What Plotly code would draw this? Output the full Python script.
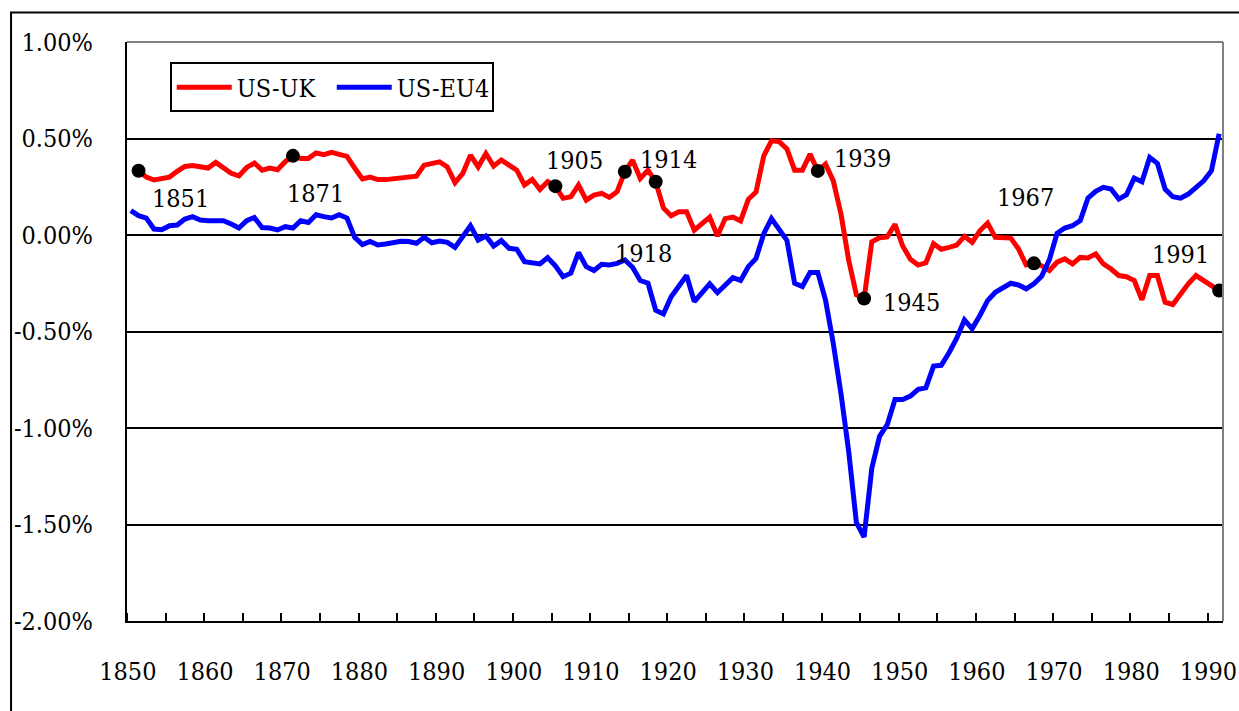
import plotly.graph_objects as go

# Annual interest-rate differentials, in percent
years_uk = list(range(1851, 1992))
us_uk = [
    0.333, 0.300, 0.285, 0.290, 0.300, 0.330, 0.355, 0.360, 0.355, 0.347,  # 1851-1860
    0.376, 0.350, 0.320, 0.306, 0.350, 0.373, 0.336, 0.347, 0.338, 0.380,  # 1861-1870
    0.410, 0.397, 0.397, 0.425, 0.416, 0.428, 0.420, 0.407, 0.347, 0.290,  # 1871-1880
    0.300, 0.287, 0.287, 0.293, 0.297, 0.302, 0.305, 0.362, 0.371, 0.379,  # 1881-1890
    0.353, 0.271, 0.319, 0.414, 0.353, 0.422, 0.357, 0.388, 0.362, 0.336,  # 1891-1900
    0.259, 0.288, 0.236, 0.276, 0.253, 0.190, 0.198, 0.259, 0.181, 0.207,  # 1901-1910
    0.216, 0.195, 0.224, 0.328, 0.388, 0.293, 0.336, 0.276, 0.140, 0.100,  # 1911-1920
    0.120, 0.120, 0.025, 0.059, 0.093, -0.005, 0.085, 0.093, 0.073, 0.185,  # 1921-1930
    0.223, 0.410, 0.488, 0.484, 0.446, 0.336, 0.336, 0.419, 0.332, 0.367,  # 1931-1940
    0.282, 0.110, -0.130, -0.310, -0.329, -0.035, -0.014, -0.010, 0.055, -0.057,  # 1941-1950
    -0.126, -0.156, -0.144, -0.045, -0.074, -0.064, -0.052, -0.007, -0.038, 0.022,  # 1951-1960
    0.062, -0.012, -0.016, -0.016, -0.072, -0.155, -0.147, -0.159, -0.184, -0.141,  # 1961-1970
    -0.124, -0.150, -0.116, -0.119, -0.098, -0.150, -0.176, -0.210, -0.216, -0.236,  # 1971-1980
    -0.336, -0.210, -0.210, -0.348, -0.360, -0.305, -0.253, -0.210, -0.236, -0.262,  # 1981-1990
    -0.288,  # 1991
]

years_eu = list(range(1850, 1992))
us_eu4 = [
    0.126,  # 1850
    0.100, 0.088, 0.031, 0.027, 0.048, 0.052, 0.083, 0.095, 0.078, 0.074,  # 1851-1860
    0.074, 0.074, 0.057, 0.036, 0.074, 0.091, 0.039, 0.036, 0.026, 0.043,  # 1861-1870
    0.036, 0.074, 0.065, 0.105, 0.095, 0.088, 0.105, 0.088, -0.012, -0.050,  # 1871-1880
    -0.033, -0.052, -0.047, -0.041, -0.033, -0.034, -0.043, -0.012, -0.040, -0.031,  # 1881-1890
    -0.038, -0.064, -0.009, 0.048, -0.026, -0.005, -0.057, -0.029, -0.069, -0.074,  # 1891-1900
    -0.138, -0.141, -0.150, -0.117, -0.160, -0.216, -0.198, -0.091, -0.164, -0.184,  # 1901-1910
    -0.152, -0.155, -0.147, -0.129, -0.167, -0.236, -0.250, -0.390, -0.409, -0.320,  # 1911-1920
    -0.270, -0.210, -0.345, -0.303, -0.253, -0.299, -0.260, -0.221, -0.235, -0.164,  # 1921-1930
    -0.121, 0.007, 0.085, 0.029, -0.028, -0.250, -0.267, -0.194, -0.194, -0.337,  # 1931-1940
    -0.560, -0.820, -1.120, -1.490, -1.565, -1.208, -1.043, -0.983, -0.852, -0.852,  # 1941-1950
    -0.835, -0.800, -0.792, -0.679, -0.675, -0.610, -0.535, -0.440, -0.486, -0.417,  # 1951-1960
    -0.340, -0.297, -0.276, -0.250, -0.259, -0.279, -0.253, -0.214, -0.129, 0.009,  # 1961-1970
    0.036, 0.048, 0.074, 0.191, 0.226, 0.247, 0.238, 0.186, 0.209, 0.295,  # 1971-1980
    0.276, 0.402, 0.371, 0.238, 0.198, 0.191, 0.212, 0.243, 0.281, 0.333,  # 1981-1990
    0.525,  # 1991
]

# Highlighted years on the US-UK series
marked_years = [1851, 1871, 1905, 1914, 1918, 1939, 1945, 1967, 1991]

# Axis ticks
x_label_years = list(range(1850, 1991, 10))
x_label_text = [str(y) for y in x_label_years]
y_tick_vals = [1.0, 0.5, 0.0, -0.5, -1.0, -1.5, -2.0]
y_tick_text = ["1.00%", "0.50%", "0.00%", "-0.50%", "-1.00%", "-1.50%", "-2.00%"]

# Pixel offsets of each year label relative to its marker
label_offsets = {
    1851: (42, -28), 1871: (23, -38), 1905: (19, 26), 1914: (44, 12),
    1918: (-12, -72), 1939: (45, 12), 1945: (47, -4), 1967: (-8, 66),
    1991: (-39, 36),
}

FONT = "'DejaVu Serif Condensed', 'DejaVu Serif', serif"
FS = 25
uk_lookup = dict(zip(years_uk, us_uk))
marked_vals = [uk_lookup[y] for y in marked_years]

fig = go.Figure()
fig.add_trace(go.Scatter(x=years_uk, y=us_uk, mode="lines", name="US-UK",
                         line=dict(color="#FF0000", width=5)))
fig.add_trace(go.Scatter(x=years_eu, y=us_eu4, mode="lines", name="US-EU4",
                         line=dict(color="#0000FF", width=5)))
fig.add_trace(go.Scatter(x=marked_years, y=marked_vals, mode="markers",
                         marker=dict(color="black", size=14), showlegend=False,
                         hoverinfo="skip"))

for yr, val in zip(marked_years, marked_vals):
    dx, dy = label_offsets[yr]
    fig.add_annotation(x=yr, y=val, text=str(yr), showarrow=False,
                       xshift=dx, yshift=dy, xanchor="center", yanchor="middle",
                       font=dict(family=FONT, size=FS, color="black"))

# Plot-area border on the top and right sides
fig.add_shape(type="line", xref="paper", yref="paper", x0=0, x1=1, y0=1, y1=1,
              line=dict(color="#808080", width=2), layer="above")
fig.add_shape(type="line", xref="paper", yref="paper", x0=1, x1=1, y0=0, y1=1,
              line=dict(color="#808080", width=2), layer="above")
# Outer chart frame
fig.add_shape(type="rect", xref="paper", yref="paper",
              x0=-0.1058, x1=1.03, y0=-0.2, y1=1.051,
              line=dict(color="black", width=2), layer="above")

fig.update_layout(
    width=1239, height=711,
    margin=dict(l=127, r=16, t=42, b=90, autoexpand=False),
    paper_bgcolor="white", plot_bgcolor="white",
    font=dict(family=FONT, size=FS, color="black"),
    showlegend=True,
    legend=dict(orientation="h", x=0.039, y=0.9646, xanchor="left", yanchor="top",
                bgcolor="white", bordercolor="black", borderwidth=2,
                font=dict(family=FONT, size=FS, color="black"),
                itemwidth=55, entrywidth=90, tracegroupgap=0),
    xaxis=dict(
        range=[1849.5, 1991.5], automargin=False,
        tickmode="array", tickvals=x_label_years, ticktext=x_label_text,
        ticks="", showgrid=False, zeroline=False,
        showline=True, linecolor="black", linewidth=2,
        tickfont=dict(family=FONT, size=FS, color="black"),
        ticklabelstandoff=27, ticklabelshift=-3, ticklabeloverflow="allow",
        minor=dict(tick0=1849.5, dtick=5, ticks="inside", ticklen=8,
                   tickwidth=2, tickcolor="black", showgrid=False),
    ),
    yaxis=dict(
        range=[-2, 1], automargin=False,
        tickmode="array", tickvals=y_tick_vals, ticktext=y_tick_text,
        ticks="", showgrid=True, gridcolor="black", gridwidth=1.5,
        zeroline=True, zerolinecolor="black", zerolinewidth=1.5,
        showline=True, linecolor="black", linewidth=2,
        tickfont=dict(family=FONT, size=FS, color="black"),
        ticklabelstandoff=27,
    ),
)

fig.write_html("out.html")
